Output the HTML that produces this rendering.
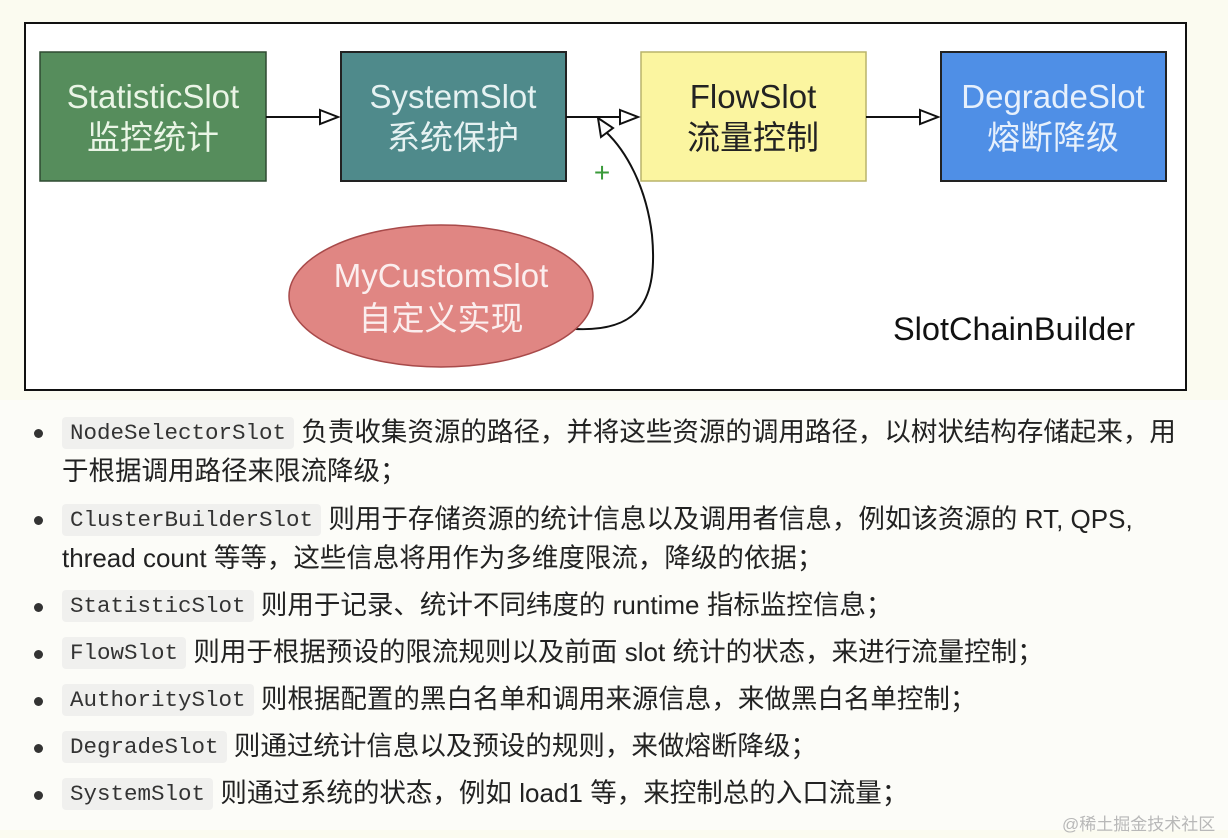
<!DOCTYPE html>
<html><head><meta charset="utf-8"><style>
html,body{margin:0;padding:0;}
body{width:1228px;height:838px;background:#fbfbf0;position:relative;overflow:hidden;font-family:"Liberation Sans","Noto Sans CJK SC",sans-serif;}
svg{position:absolute;left:0;top:0;}
.list{position:absolute;left:0;top:400px;width:1228px;height:430px;background:#fcfcf8;}
.li{position:absolute;left:62px;font-size:26.5px;color:#222;white-space:nowrap;line-height:30px;}
.li .en{font-size:26px;}
.dot{position:absolute;left:34px;width:9px;height:9px;border-radius:50%;background:#333;}
code{font-family:"Liberation Mono",monospace;font-size:22.5px;background:#f0f0ee;border-radius:4px;padding:3px 8px;color:#333;vertical-align:2px;}
.wm{position:absolute;left:1062px;top:810px;font-size:17px;color:#b8b8b8;}
</style></head><body>
<svg width="1228" height="400" font-family="Liberation Sans, Noto Sans CJK SC, sans-serif">
<rect x="25" y="23" width="1161" height="367" fill="#fff" stroke="#111" stroke-width="2"/>
<rect x="40" y="52" width="226" height="129" fill="#568d5c" stroke="#2e4a31" stroke-width="1.5"/>
<rect x="341" y="52" width="225" height="129" fill="#4f8a8b" stroke="#222" stroke-width="2"/>
<rect x="641" y="52" width="225" height="129" fill="#fbf5a0" stroke="#b9b46a" stroke-width="1.5"/>
<rect x="941" y="52" width="225" height="129" fill="#4f8fe6" stroke="#222" stroke-width="2"/>
<g font-size="33" text-anchor="middle">
<text x="153" y="108" fill="#eaf5e6">StatisticSlot</text><text x="153" y="149" fill="#eaf5e6">监控统计</text>
<text x="453" y="108" fill="#e6f2f2">SystemSlot</text><text x="453" y="149" fill="#e6f2f2">系统保护</text>
<text x="753" y="108" fill="#222">FlowSlot</text><text x="753" y="149" fill="#222">流量控制</text>
<text x="1053" y="108" fill="#e6f0fc">DegradeSlot</text><text x="1053" y="149" fill="#e6f0fc">熔断降级</text>
</g>
<g stroke="#111" stroke-width="2" fill="none">
<line x1="266" y1="117" x2="320" y2="117"/><polygon points="320,110 338,117 320,124" fill="#fff"/>
<line x1="566" y1="117" x2="620" y2="117"/><polygon points="620,110 638,117 620,124" fill="#fff"/>
<line x1="866" y1="117" x2="920" y2="117"/><polygon points="920,110 938,117 920,124" fill="#fff"/>
<path d="M575,329 C640,332 658,300 652,235 C646,185 625,150 606,132"/>
<polygon points="598,118 613,128 601,137" fill="#fff"/>
</g>
<text x="602" y="182" font-size="28" fill="#3a9a3a" text-anchor="middle">+</text>
<ellipse cx="441" cy="296" rx="152" ry="71" fill="#e08683" stroke="#a84a4a" stroke-width="1.5"/>
<g font-size="33" text-anchor="middle" fill="#fbeeee">
<text x="441" y="287">MyCustomSlot</text><text x="441" y="330">自定义实现</text>
</g>
<text x="893" y="340" font-size="32.5" fill="#111">SlotChainBuilder</text>
</svg>
<div class="list">
<div class="dot" style="top:29px"></div>
<div class="li" style="top:17px"><code>NodeSelectorSlot</code> 负责收集资源的路径，并将这些资源的调用路径，以树状结构存储起来，用</div>
<div class="li" style="top:56px">于根据调用路径来限流降级；</div>
<div class="dot" style="top:116px"></div>
<div class="li" style="top:104px"><code>ClusterBuilderSlot</code> 则用于存储资源的统计信息以及调用者信息，例如该资源的 <span class="en">RT, QPS,</span></div>
<div class="li" style="top:143px"><span class="en">thread count</span> 等等，这些信息将用作为多维度限流，降级的依据；</div>
<div class="dot" style="top:203px"></div>
<div class="li" style="top:190px"><code>StatisticSlot</code> 则用于记录、统计不同纬度的 <span class="en">runtime</span> 指标监控信息；</div>
<div class="dot" style="top:250px"></div>
<div class="li" style="top:237px"><code>FlowSlot</code> 则用于根据预设的限流规则以及前面 <span class="en">slot</span> 统计的状态，来进行流量控制；</div>
<div class="dot" style="top:297px"></div>
<div class="li" style="top:284px"><code>AuthoritySlot</code> 则根据配置的黑白名单和调用来源信息，来做黑白名单控制；</div>
<div class="dot" style="top:344px"></div>
<div class="li" style="top:331px"><code>DegradeSlot</code> 则通过统计信息以及预设的规则，来做熔断降级；</div>
<div class="dot" style="top:391px"></div>
<div class="li" style="top:378px"><code>SystemSlot</code> 则通过系统的状态，例如 <span class="en">load1</span> 等，来控制总的入口流量；</div>
</div>
<div class="wm">@稀土掘金技术社区</div>
</body></html>
